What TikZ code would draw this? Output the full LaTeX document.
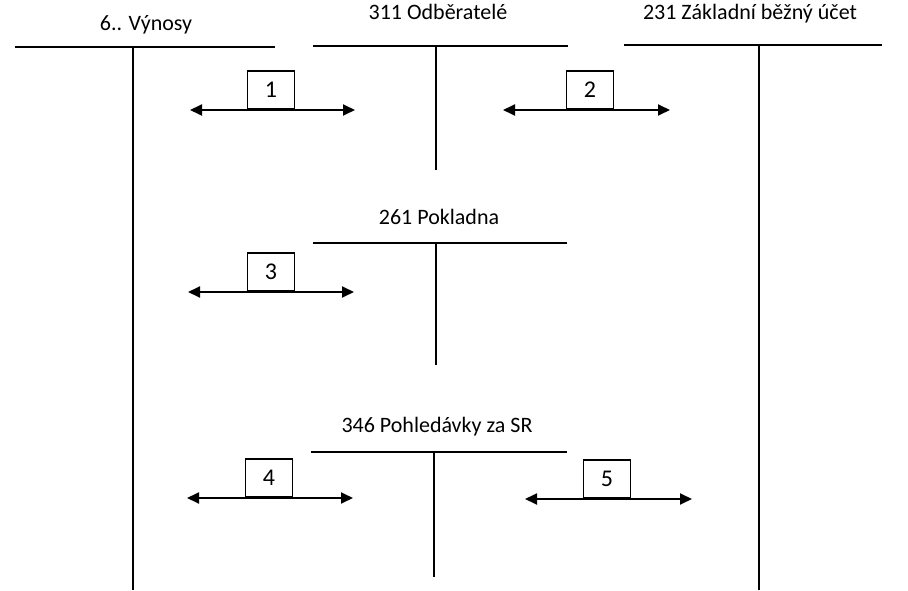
\documentclass[tikz,border=0pt]{standalone}
\usepackage{fontspec}
\setmainfont{Carlito}
\usetikzlibrary{arrows.meta}
\tikzset{
  acct/.style={line width=1.8pt},
  tx/.style={line width=1.8pt, {Triangle[length=12pt,width=11pt]}-{Triangle[length=12pt,width=11pt]}},
  numbox/.style={draw, line width=1.8pt, minimum width=47pt, minimum height=38pt, inner sep=0pt, anchor=south,
    font=\fontsize{24}{28}\selectfont}
}
\begin{document}
\begin{tikzpicture}[x=1pt, y=-1pt, font=\fontsize{22}{26}\selectfont]
	\useasboundingbox (0,0) rectangle (908,591);
	% account titles
	\node[anchor=base] (tvyn) at (146,31) {6.. Výnosy};
	\node[anchor=base] (todb) at (438,20) {311 Odběratelé};
	\node[anchor=base] (tucet) at (750,20) {231 Základní běžný účet};
	\node[anchor=base] (tpok) at (439,224) {261 Pokladna};
	\node[anchor=base] (tpoh) at (437,432) {346 Pohledávky za SR};
	% T-accounts
	\coordinate (vl) at (15,47); \coordinate (vr) at (275,47); \coordinate (vt) at (133,47); \coordinate (vb) at (133,590);
	\coordinate (ol) at (313,46); \coordinate (or) at (568,46); \coordinate (ot) at (436,46); \coordinate (ob) at (436,170);
	\coordinate (ul) at (624,45); \coordinate (ur) at (882,45); \coordinate (ut) at (759,45); \coordinate (ub) at (759,590);
	\coordinate (kl) at (313,243); \coordinate (kr) at (567,243); \coordinate (kt) at (436,243); \coordinate (kb) at (436,365);
	\coordinate (hl) at (311,452); \coordinate (hr) at (567,452); \coordinate (ht) at (434,452); \coordinate (hb) at (434,577);
	\foreach \a in {v,o,u,k,h} {
		\draw[acct] (\a l) -- (\a r);
		\draw[acct] (\a t) -- (\a b);
	}
	% transactions
	\coordinate (a1l) at (190,110); \coordinate (a1r) at (355,110);
	\coordinate (a2l) at (503,110); \coordinate (a2r) at (670,110);
	\coordinate (a3l) at (188,292); \coordinate (a3r) at (354,292);
	\coordinate (a4l) at (187,498); \coordinate (a4r) at (353,498);
	\coordinate (a5l) at (525,499); \coordinate (a5r) at (692,499);
	\foreach \i in {1,...,5} \draw[tx] (a\i l) -- (a\i r);
	\node[numbox] (n1) at (271,110) {1};
	\node[numbox] (n2) at (590,110) {2};
	\node[numbox] (n3) at (271,292) {3};
	\node[numbox] (n4) at (269,498) {4};
	\node[numbox] (n5) at (607,499) {5};
\end{tikzpicture}
\end{document}
